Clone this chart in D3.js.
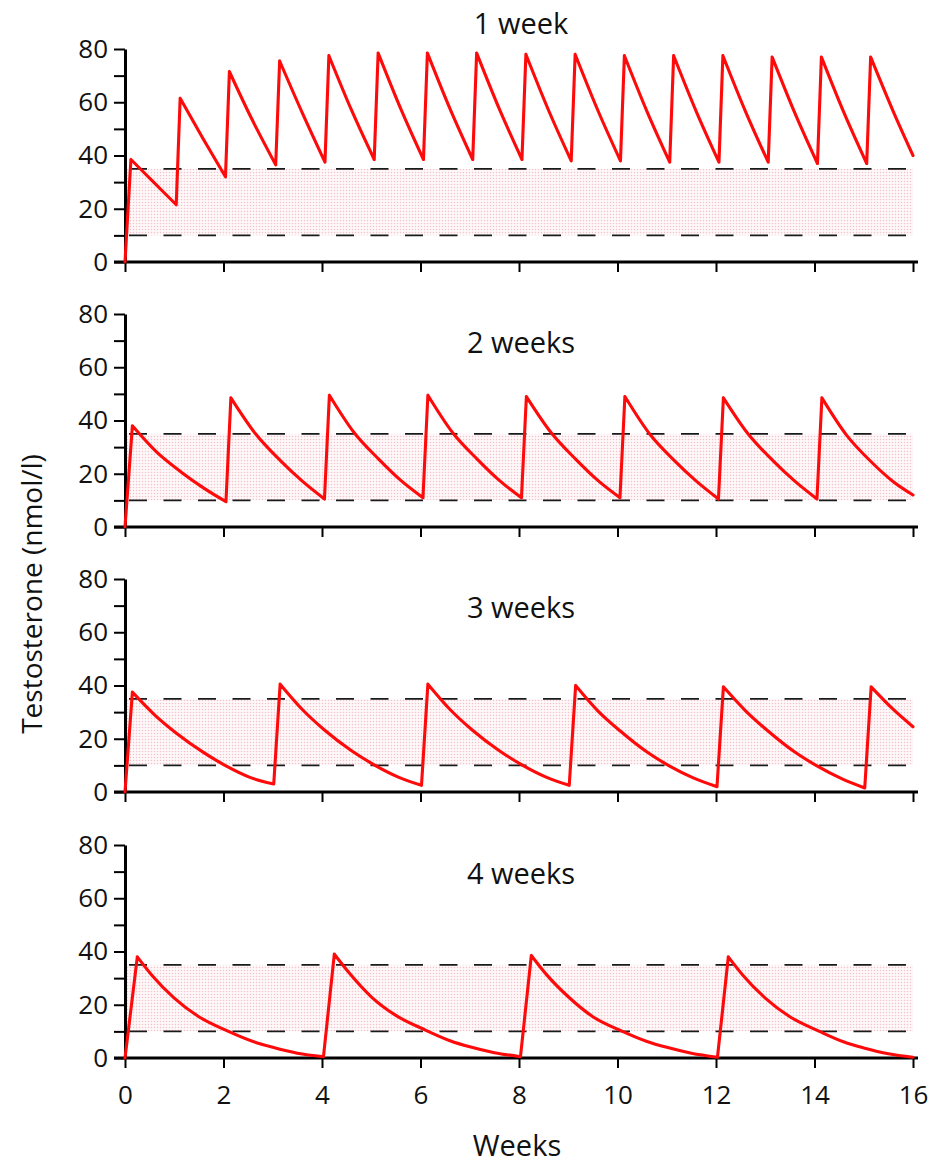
<!DOCTYPE html>
<html><head><meta charset="utf-8">
<script src="https://cdn.jsdelivr.net/npm/d3@7"></script>
<style>
body{margin:0;background:#fff}
svg{display:block}
text{font-family:"Open Sans",sans-serif;fill:#111}
</style>
</head><body>
<svg id="c" width="939" height="1165"></svg>
<script>
// ---------- data ----------
const panelTitles = ["1 week", "2 weeks", "3 weeks", "4 weeks"];
const xTickValues = [0, 2, 4, 6, 8, 10, 12, 14, 16];
const yTickValues = [0, 10, 20, 30, 40, 50, 60, 70, 80];
const normalRange = [10, 35];
const xAxisTitle = "Weeks";
const yAxisTitle = "Testosterone (nmol/l)";

// [week, testosterone nmol/l]
const week1 = [
  [0,0],[0.12,38.5],[0.58,30],[1.04,21.5],
  [1.12,61.5],[1.58,46.5],[2.04,32],
  [2.12,71.5],[2.58,53.5],[3.06,36.5],
  [3.14,75.5],[3.6,56],[4.06,37.5],
  [4.14,77.5],[4.6,57],[5.06,38.5],
  [5.14,78.5],[5.6,57.5],[6.06,38.5],
  [6.14,78.5],[6.6,57.5],[7.06,38.5],
  [7.14,78.5],[7.6,57.5],[8.06,38.5],
  [8.14,78],[8.6,57],[9.06,38],
  [9.14,78],[9.6,57],[10.06,38],
  [10.14,77.5],[10.6,56.5],[11.06,37.5],
  [11.14,77.5],[11.6,56.5],[12.06,37.5],
  [12.14,77.5],[12.6,56.5],[13.06,37.5],
  [13.14,77],[13.6,56],[14.06,37],
  [14.14,77],[14.6,56],[15.06,37],
  [15.14,77],[15.6,56.5],[16,40]
];
const week2 = [
  [0,0],[0.15,38],[0.65,28],[1.15,20.5],[1.6,14.6],[2.05,9.5],
  [2.15,48.5],[2.65,35],[3.15,25],[3.6,17.2],[4.05,10.5],
  [4.15,49.5],[4.65,35.5],[5.15,25.5],[5.6,17.5],[6.05,11],
  [6.15,49.5],[6.65,35.5],[7.15,25.5],[7.6,17.5],[8.05,11],
  [8.15,49],[8.65,35.5],[9.15,25.5],[9.6,17.5],[10.05,11],
  [10.15,49],[10.65,35],[11.15,25],[11.6,17.2],[12.05,10.5],
  [12.15,48.5],[12.65,35],[13.15,25],[13.6,17.2],[14.05,10.5],
  [14.15,48.5],[14.65,34.5],[15.15,24.5],[15.6,17],[16,12]
];
const week3 = [
  [0,0],[0.15,37.5],[0.6,29],[1.05,22],[1.6,14.8],[2.05,9.8],[2.55,5.4],[3.02,3],
  [3.15,40.5],[3.6,31],[4.05,23.3],[4.6,15.5],[5.05,10.3],[5.55,5.6],[6.02,2.5],
  [6.15,40.5],[6.6,31],[7.05,23.3],[7.6,15.5],[8.05,10.3],[8.55,5.6],[9.02,2.5],
  [9.15,40],[9.6,30.5],[10.05,23],[10.6,15],[11.05,9.8],[11.55,5.2],[12.02,2],
  [12.15,39.5],[12.6,30.5],[13.05,23],[13.6,15],[14.05,9.8],[14.55,5],[15.02,1.5],
  [15.15,39.5],[15.6,31],[16,24.5]
];
const week4 = [
  [0,0],[0.25,38],[0.55,31],[1,22.5],[1.5,15.5],[2.1,10],[2.6,6.2],[3,4],[3.5,1.8],[4.03,0.5],
  [4.25,39],[4.55,32],[5,23],[5.5,16],[6.1,10.5],[6.6,6.5],[7,4.2],[7.5,2],[8.03,0.5],
  [8.25,38.5],[8.55,31.5],[9,23],[9.5,15.5],[10.1,10],[10.6,6.2],[11,4],[11.5,1.8],[12.03,0.3],
  [12.25,38],[12.55,31],[13,22.5],[13.5,15.5],[14.1,10],[14.6,6],[15,3.8],[15.5,1.6],[16,0.3]
];
const series = [week1, week2, week3, week4];

// ---------- layout ----------
const svg = d3.select("#c");
const left = 125, right = 913, plotH = 213;
const tops = [49, 314, 579, 845];
const x = d3.scaleLinear().domain([0, 16]).range([left, right]);

const pat = svg.append("defs").append("pattern")
  .attr("id", "dots").attr("patternUnits", "userSpaceOnUse")
  .attr("width", 3).attr("height", 3);
pat.append("rect").attr("width", 3).attr("height", 3).attr("fill", "#fff8f9");
pat.append("circle").attr("cx", 1.5).attr("cy", 1.5).attr("r", 0.75).attr("fill", "#f1c3cd");

function monotoneRuns(data) {
  const out = [];
  let cur = [data[0]], dir = 0;
  for (let j = 1; j < data.length; j++) {
    const d = Math.sign(data[j][1] - data[j - 1][1]);
    if (dir !== 0 && d !== dir) { out.push(cur); cur = [data[j - 1]]; }
    cur.push(data[j]); dir = d;
  }
  out.push(cur);
  return out;
}

series.forEach((data, i) => {
  const top = tops[i];
  const y = d3.scaleLinear().domain([0, 80]).range([top + plotH, top]);
  const g = svg.append("g");

  // normal range band
  g.append("rect")
    .attr("x", x(0)).attr("width", x(16) - x(0))
    .attr("y", y(normalRange[1])).attr("height", y(normalRange[0]) - y(normalRange[1]))
    .attr("fill", "url(#dots)");
  g.selectAll("line.ref").data(normalRange).enter().append("line")
    .attr("class", "ref")
    .attr("x1", x(0) + 4).attr("x2", x(16))
    .attr("y1", d => y(d)).attr("y2", d => y(d))
    .attr("stroke", "#1a1a1a").attr("stroke-width", 1.8)
    .attr("stroke-dasharray", "18,16.5");

  // y axis
  const ya = g.append("g").attr("transform", `translate(${left},0)`)
    .call(d3.axisLeft(y).tickValues(yTickValues).tickSize(11).tickSizeOuter(0)
      .tickPadding(6).tickFormat(d => d % 20 === 0 ? d : ""));
  ya.select(".domain").attr("stroke", "#000").attr("stroke-width", 3);
  ya.selectAll(".tick line").attr("stroke", "#000").attr("stroke-width", 2);
  ya.selectAll(".tick text").style("font-size", "26px").style("font-family", "'Open Sans', sans-serif").attr("fill", "#111");

  // x axis
  const xa = g.append("g").attr("transform", `translate(0,${y(0)})`)
    .call(d3.axisBottom(x).tickValues(xTickValues).tickSize(10).tickSizeOuter(0)
      .tickPadding(18).tickFormat(i === 3 ? d3.format("d") : () => ""));
  xa.select(".domain").remove();
  xa.selectAll(".tick line").attr("stroke", "#000").attr("stroke-width", 2);
  xa.selectAll(".tick text").style("font-size", "26px").style("font-family", "'Open Sans', sans-serif").attr("fill", "#111");
  xa.append("line").attr("x1", left - 11).attr("x2", right + 5)
    .attr("y1", 0).attr("y2", 0).attr("stroke", "#000").attr("stroke-width", 3);

  // panel title
  g.append("text")
    .attr("x", 521).attr("y", i === 0 ? 34 : top + 39)
    .attr("text-anchor", "middle").style("font-size", "29px")
    .text(panelTitles[i]);

  // concentration curve
  const line = d3.line().x(d => x(d[0])).y(d => y(d[1])).curve(d3.curveMonotoneX);
  const pathD = monotoneRuns(data).map(r => line(r)).join("");
  g.append("path").attr("d", pathD)
    .attr("fill", "none").attr("stroke", "#ff0a0a").attr("stroke-width", 3.1)
    .attr("stroke-linejoin", "round").attr("stroke-linecap", "round");
});

// axis titles
svg.append("text").attr("x", 517).attr("y", 1156)
  .attr("text-anchor", "middle").style("font-size", "29px").text(xAxisTitle);
svg.append("text").attr("transform", "translate(42,594) rotate(-90)")
  .attr("text-anchor", "middle").style("font-size", "28px").text(yAxisTitle);
</script>
</body></html>
